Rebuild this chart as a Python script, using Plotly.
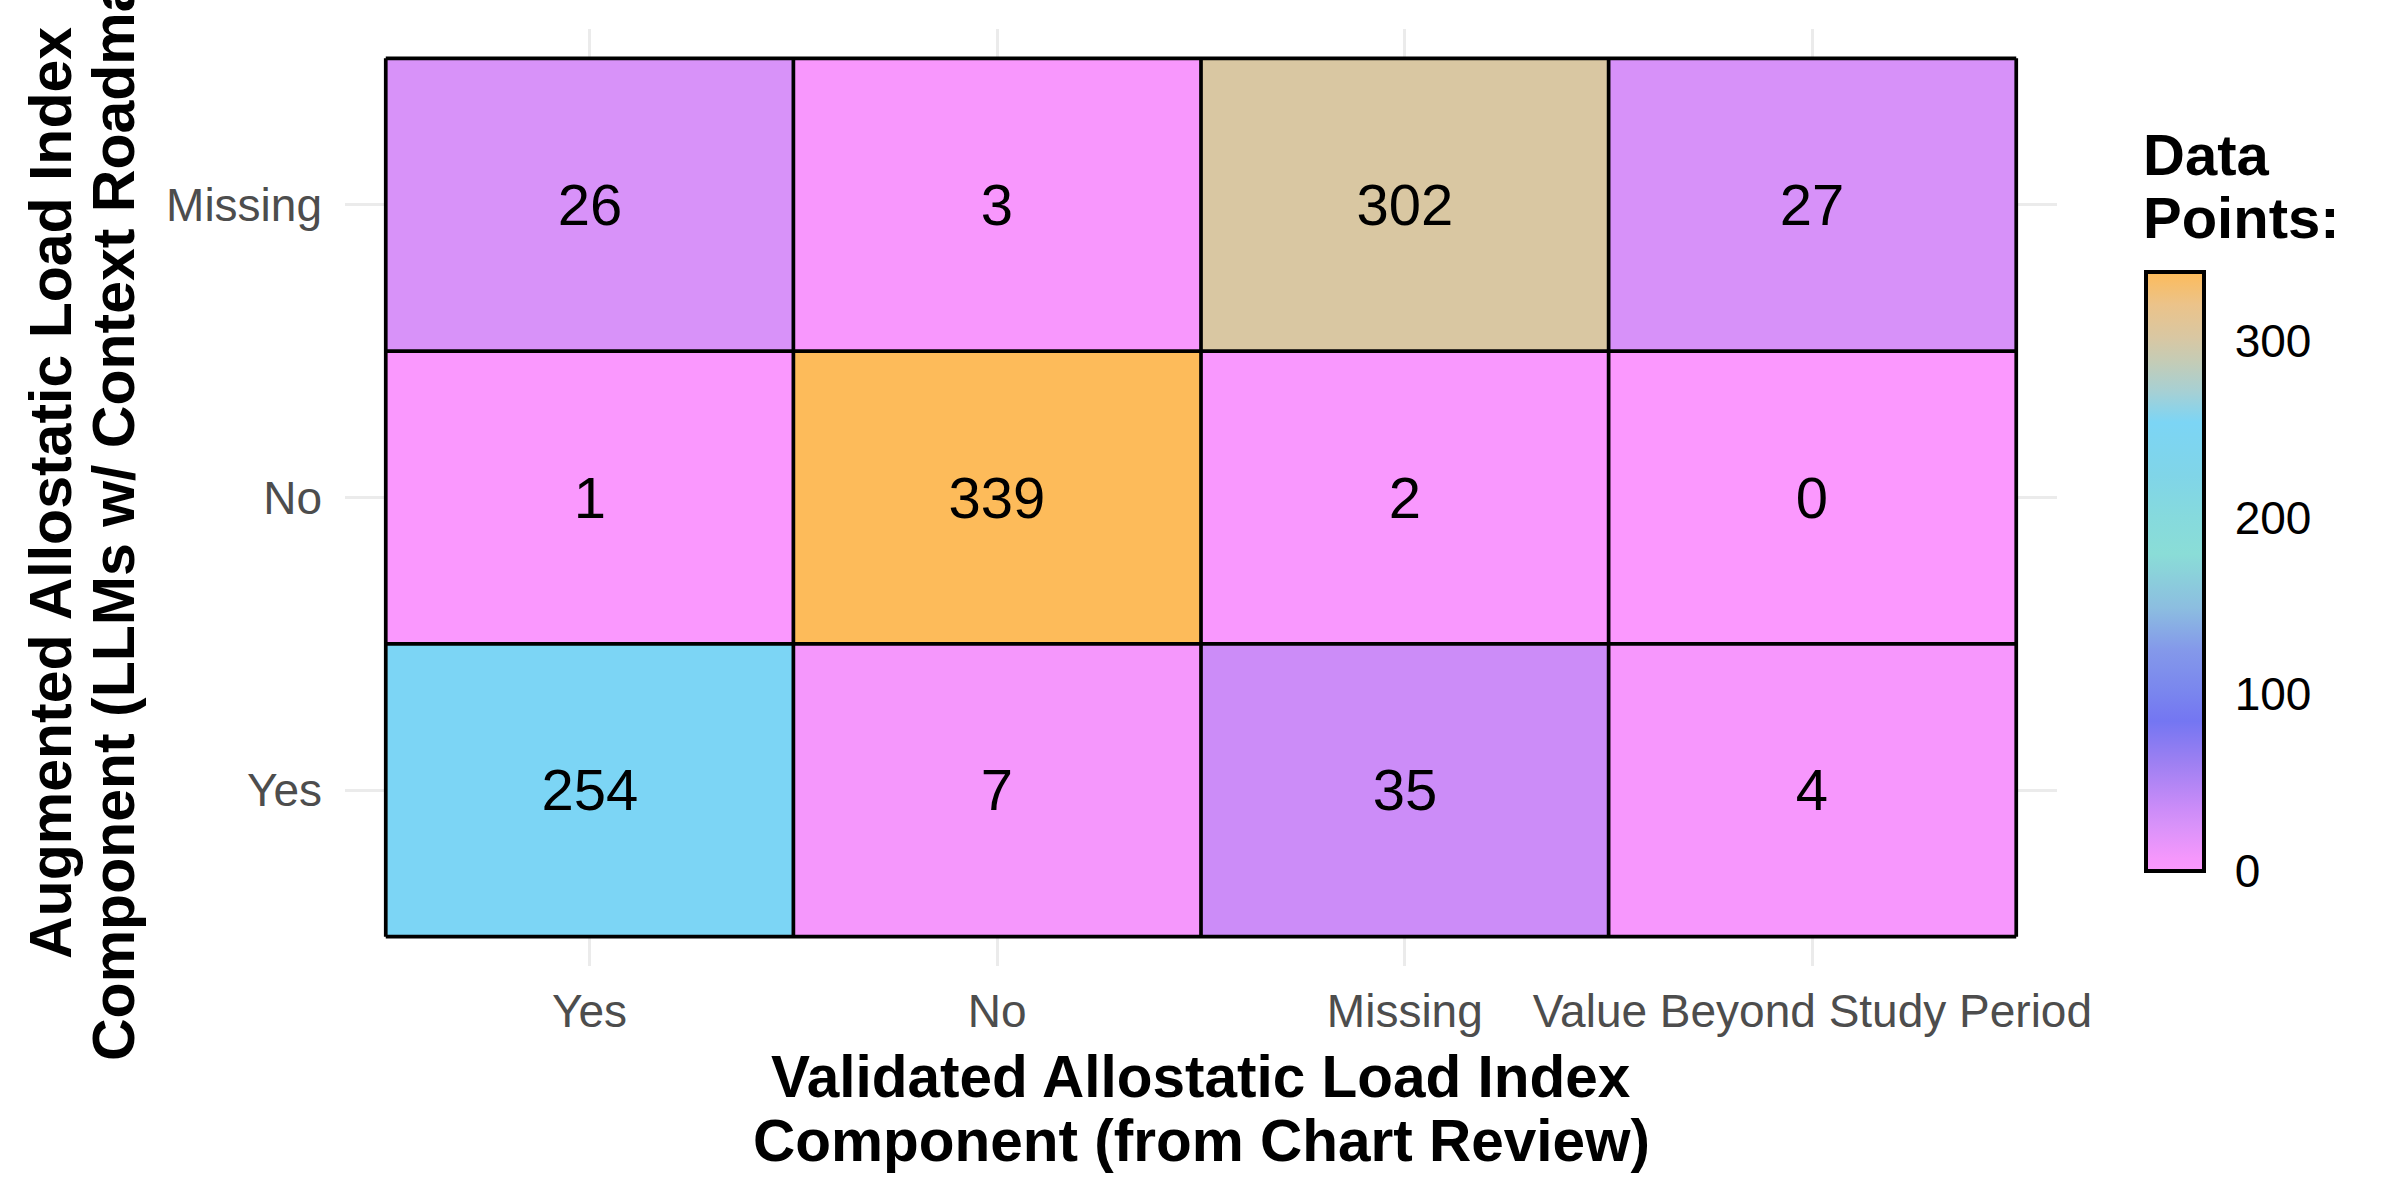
import plotly.graph_objects as go

# ---- data ----
x_cats = ["Yes", "No", "Missing", "Value Beyond Study Period"]
y_cats = ["Yes", "No", "Missing"]          # bottom -> top
counts_yes = [254, 7, 35, 4]
counts_no = [1, 339, 2, 0]
counts_missing = [26, 3, 302, 27]
cbar_ticks = [0, 100, 200, 300]

x_title = ["Validated Allostatic Load Index", "Component (from Chart Review)"]
y_title = ["Augmented Allostatic Load Index", "Component (LLMs w/ Context Roadmap)"]
legend_title = ["Data", "Points:"]

z = [counts_yes, counts_no, counts_missing]
zmax = max(max(r) for r in z)

FONT = "Liberation Sans, Arial, Helvetica, sans-serif"

colorscale = [
    [0.0, "#FB98FE"],
    [0.012, "#F797FD"],
    [0.021, "#F597FC"],
    [0.077, "#D892F9"],
    [0.103, "#CC8CF8"],
    [0.18, "#9E80F2"],
    [0.25, "#7476F2"],
    [0.30, "#7A86EE"],
    [0.37, "#8499EA"],
    [0.44, "#8CBEE0"],
    [0.53, "#8ADDD7"],
    [0.59, "#86DADD"],
    [0.66, "#80D5E8"],
    [0.749, "#7CD5F5"],
    [0.80, "#A6D0D4"],
    [0.85, "#C4CCB6"],
    [0.891, "#D9C7A2"],
    [0.945, "#EBC38A"],
    [1.0, "#FDBB5A"],
]

# ---- layout geometry (pixels) ----
W, H = 2400, 1200
ML, MR, MT, MB = 345, 343, 29, 234
PW = W - ML - MR
PH = H - MT - MB

def px_x(px):
    return (px - ML) / PW

def px_y(py):
    return (H - MB - py) / PH

cb_left_px, cb_thick = 2146, 58
cb_top_px, cb_bot_px = 272, 871
cb_len = cb_bot_px - cb_top_px
cb_yc = px_y((cb_top_px + cb_bot_px) / 2)

fig = go.Figure()
fig.add_trace(go.Heatmap(
    x=x_cats, y=y_cats, z=z,
    zmin=0, zmax=zmax,
    colorscale=colorscale,
    texttemplate="%{z}",
    textfont=dict(size=58, color="black", family=FONT),
    hoverinfo="skip",
    colorbar=dict(
        x=px_x(cb_left_px), xanchor="left", xref="paper",
        y=cb_yc, yanchor="middle",
        len=cb_len, lenmode="pixels",
        thickness=cb_thick, thicknessmode="pixels",
        xpad=0, ypad=0,
        outlinewidth=4, outlinecolor="black",
        tickvals=cbar_ticks,
        ticks="outside", ticklen=20, tickcolor="rgba(0,0,0,0)",
        tickfont=dict(size=46, color="black", family=FONT),
    ),
))

shapes = []
nx, ny = len(x_cats), len(y_cats)
for i in range(nx + 1):
    shapes.append(dict(type="line", xref="x", yref="y", layer="above",
                       x0=i - 0.5, x1=i - 0.5, y0=-0.5, y1=ny - 0.5,
                       line=dict(color="black", width=3.7)))
for j in range(ny + 1):
    shapes.append(dict(type="line", xref="x", yref="y", layer="above",
                       x0=-0.5, x1=nx - 0.5, y0=j - 0.5, y1=j - 0.5,
                       line=dict(color="black", width=3.7)))

# inner colorbar tick marks (both edges, ggplot style)
cb_y0 = px_y(cb_bot_px)
cb_y1 = px_y(cb_top_px)
tick_len = 12
for v in cbar_ticks[1:]:
    yy = cb_y0 + (cb_y1 - cb_y0) * v / zmax
    for (a, b) in [(cb_left_px, cb_left_px + tick_len),
                   (cb_left_px + cb_thick - tick_len, cb_left_px + cb_thick)]:
        shapes.append(dict(type="line", xref="paper", yref="paper", layer="above",
                           x0=px_x(a), x1=px_x(b), y0=yy, y1=yy,
                           line=dict(color="#333333", width=2)))

annotations = []
# x-axis title (two lines)
for txt, py in zip(x_title, [1076, 1140]):
    annotations.append(dict(text="<b>%s</b>" % txt, xref="paper", yref="paper",
                            x=0.5, y=px_y(py), xanchor="center", yanchor="middle",
                            showarrow=False,
                            font=dict(size=58.5, color="black", family=FONT)))
# y-axis title (two lines, rotated)
for txt, pxx in zip(y_title, [51, 114]):
    annotations.append(dict(text="<b>%s</b>" % txt, xref="paper", yref="paper",
                            x=px_x(pxx), y=px_y(493), xanchor="center", yanchor="middle",
                            textangle=-90, showarrow=False,
                            font=dict(size=59, color="black", family=FONT)))
# legend title
for txt, py in zip(legend_title, [155, 217]):
    annotations.append(dict(text="<b>%s</b>" % txt, xref="paper", yref="paper",
                            x=px_x(2141), y=px_y(py), xanchor="left", yanchor="middle",
                            showarrow=False,
                            font=dict(size=58, color="black", family=FONT)))

fig.update_layout(
    width=W, height=H,
    margin=dict(l=ML, r=MR, t=MT, b=MB),
    paper_bgcolor="white", plot_bgcolor="white",
    font=dict(family=FONT),
    shapes=shapes, annotations=annotations,
    xaxis=dict(type="category", range=[-0.6, nx - 0.4],
               showgrid=True, gridcolor="#EBEBEB", gridwidth=3,
               zeroline=False, showline=False, ticks="",
               ticklabelstandoff=14,
               tickfont=dict(size=46, color="#4D4D4D", family=FONT)),
    yaxis=dict(type="category", range=[-0.6, ny - 0.4],
               showgrid=True, gridcolor="#EBEBEB", gridwidth=3,
               zeroline=False, showline=False, ticks="",
               ticklabelstandoff=22,
               tickfont=dict(size=46, color="#4D4D4D", family=FONT)),
)

fig.write_html("out.html")
